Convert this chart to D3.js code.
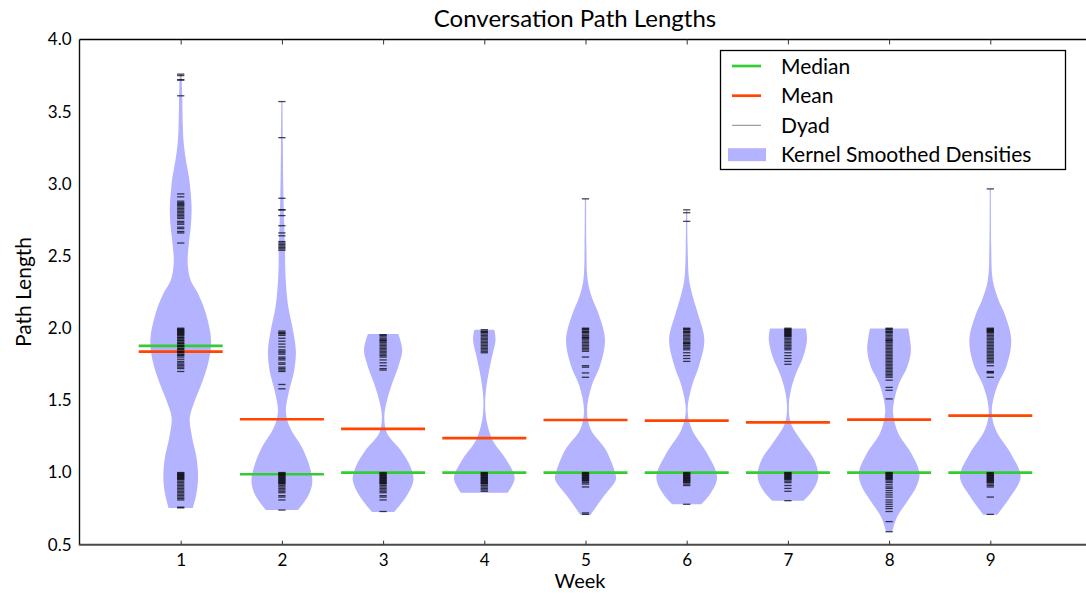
<!DOCTYPE html>
<html><head><meta charset="utf-8">
<script src="https://cdn.jsdelivr.net/npm/d3@7"></script>
<style>
body{margin:0;background:#fff}
svg{display:block}
text{font-family:Lato,"Open Sans",sans-serif;fill:#000}
</style>
</head><body>
<svg id="chart" width="1086" height="594"></svg>
<script>
// ---------- data ----------
const weeks = [1, 2, 3, 4, 5, 6, 7, 8, 9];
const medians = [1.877, 0.988, 1.0, 1.0, 1.0, 1.0, 1.0, 1.0, 1.0];
const means = [1.838, 1.369, 1.302, 1.238, 1.364, 1.360, 1.347, 1.366, 1.394];
const yTicks = [0.5, 1.0, 1.5, 2.0, 2.5, 3.0, 3.5, 4.0];
const xTicks = [1, 2, 3, 4, 5, 6, 7, 8, 9];
const legendLabels = ["Median", "Mean", "Dyad", "Kernel Smoothed Densities"];

// kernel density profiles: [path length, relative density]
const density1 = [[3.76,0.03],[3.63,0.05],[3.40,0.07],[3.28,0.10],[3.165,0.17],[3.05,0.27],[2.935,0.33],[2.82,0.36],[2.70,0.33],[2.59,0.27],[2.45,0.23],[2.33,0.33],[2.24,0.57],[2.10,0.83],[1.92,1.0],[1.78,0.93],[1.64,0.73],[1.50,0.47],[1.38,0.30],[1.25,0.37],[1.09,0.53],[0.95,0.57],[0.835,0.50],[0.755,0.40]];
const density2 = [[3.57,0.02],[3.28,0.03],[2.935,0.05],[2.70,0.08],[2.57,0.10],[2.36,0.12],[2.16,0.20],[1.98,0.37],[1.84,0.46],[1.70,0.40],[1.56,0.23],[1.42,0.13],[1.31,0.27],[1.17,0.67],[1.03,0.93],[0.93,1.0],[0.84,0.87],[0.74,0.53]];
const density3 = [[1.96,0.50],[1.85,0.63],[1.733,0.50],[1.618,0.30],[1.50,0.13],[1.387,0.04],[1.272,0.13],[1.157,0.57],[1.04,0.90],[0.95,1.0],[0.835,0.77],[0.726,0.36]];
const density4 = [[1.99,0.33],[1.92,0.37],[1.78,0.23],[1.64,0.10],[1.50,0.03],[1.364,0.07],[1.226,0.27],[1.087,0.73],[0.96,1.0],[0.86,0.77]];
const density5 = [[2.896,0.02],[2.565,0.03],[2.334,0.07],[2.22,0.20],[2.10,0.43],[1.92,0.64],[1.735,0.47],[1.60,0.20],[1.43,0.05],[1.30,0.17],[1.156,0.67],[0.995,0.98],[0.95,1.0],[0.835,0.60],[0.708,0.17]];
const density6 = [[2.82,0.02],[2.565,0.03],[2.334,0.08],[2.22,0.20],[2.10,0.37],[1.92,0.58],[1.735,0.40],[1.60,0.17],[1.43,0.03],[1.30,0.17],[1.133,0.67],[0.97,1.0],[0.86,0.80],[0.78,0.48]];
const density7 = [[1.997,0.59],[1.92,0.63],[1.80,0.50],[1.687,0.27],[1.572,0.10],[1.456,0.03],[1.34,0.10],[1.202,0.50],[1.087,0.87],[0.971,1.0],[0.88,0.83],[0.805,0.52]];
const density8 = [[1.997,0.63],[1.85,0.72],[1.733,0.60],[1.618,0.33],[1.50,0.17],[1.41,0.13],[1.272,0.30],[1.134,0.73],[0.995,1.0],[0.903,0.90],[0.81,0.63],[0.695,0.27],[0.59,0.10]];
const density9 = [[2.965,0.02],[2.565,0.03],[2.334,0.08],[2.196,0.27],[2.10,0.47],[1.92,0.69],[1.735,0.53],[1.60,0.23],[1.43,0.05],[1.30,0.17],[1.133,0.67],[0.97,1.0],[0.835,0.67],[0.708,0.23]];

// individual dyad path lengths
const dyads1 = [3.76,3.75,3.72,3.72,3.61,2.93,2.91,2.88,2.87,2.86,2.86,2.85,2.84,2.83,2.82,2.81,2.80,2.79,2.78,2.77,2.76,2.74,2.73,2.72,2.70,2.69,2.67,2.66,2.59,2.00,1.995,1.99,1.985,1.98,1.975,1.97,1.965,1.96,1.955,1.95,1.94,1.935,1.93,1.92,1.915,1.91,1.90,1.895,1.89,1.88,1.875,1.87,1.86,1.855,1.85,1.84,1.835,1.83,1.82,1.815,1.81,1.80,1.785,1.77,1.76,1.75,1.74,1.73,1.72,1.70,1.00,0.995,0.99,0.985,0.98,0.975,0.97,0.965,0.96,0.955,0.95,0.94,0.93,0.92,0.91,0.90,0.89,0.88,0.87,0.86,0.85,0.84,0.83,0.82,0.81,0.76,0.755];
const dyads2 = [3.57,3.32,2.90,2.82,2.82,2.78,2.71,2.66,2.64,2.60,2.59,2.58,2.57,2.56,2.55,2.54,1.98,1.97,1.965,1.96,1.95,1.93,1.91,1.89,1.87,1.85,1.84,1.83,1.82,1.80,1.79,1.78,1.76,1.75,1.73,1.72,1.71,1.70,1.61,1.58,1.00,0.995,0.99,0.985,0.98,0.975,0.97,0.965,0.96,0.955,0.95,0.945,0.94,0.935,0.93,0.925,0.92,0.91,0.90,0.89,0.88,0.87,0.86,0.84,0.83,0.81,0.74];
const dyads3 = [1.955,1.95,1.94,1.93,1.92,1.915,1.91,1.90,1.89,1.88,1.87,1.86,1.85,1.84,1.83,1.82,1.81,1.80,1.78,1.76,1.74,1.72,1.71,1.00,0.995,0.99,0.985,0.98,0.975,0.97,0.965,0.96,0.955,0.95,0.945,0.94,0.935,0.93,0.925,0.92,0.91,0.90,0.89,0.88,0.87,0.86,0.84,0.83,0.81,0.73];
const dyads4 = [1.99,1.98,1.975,1.97,1.96,1.95,1.94,1.93,1.92,1.91,1.90,1.89,1.88,1.87,1.86,1.85,1.84,1.83,1.00,0.995,0.99,0.985,0.98,0.975,0.97,0.965,0.96,0.955,0.95,0.945,0.94,0.935,0.93,0.925,0.92,0.91,0.90,0.89,0.88,0.87];
const dyads5 = [2.896,2.00,1.995,1.99,1.98,1.975,1.97,1.96,1.95,1.94,1.935,1.93,1.92,1.91,1.90,1.89,1.88,1.87,1.86,1.85,1.84,1.80,1.74,1.73,1.69,1.66,1.00,0.995,0.99,0.985,0.98,0.975,0.97,0.965,0.96,0.955,0.95,0.945,0.94,0.93,0.92,0.90,0.72,0.71];
const dyads6 = [2.82,2.80,2.74,2.00,1.995,1.99,1.98,1.975,1.97,1.96,1.95,1.94,1.93,1.92,1.91,1.90,1.895,1.89,1.88,1.87,1.86,1.85,1.83,1.81,1.79,1.77,1.00,0.995,0.99,0.985,0.98,0.975,0.97,0.965,0.96,0.955,0.95,0.945,0.94,0.935,0.93,0.92,0.91,0.78];
const dyads7 = [2.00,1.995,1.99,1.985,1.98,1.975,1.97,1.965,1.96,1.955,1.95,1.945,1.94,1.93,1.92,1.91,1.90,1.89,1.88,1.87,1.86,1.85,1.83,1.81,1.79,1.77,1.75,1.00,0.995,0.99,0.985,0.98,0.975,0.97,0.965,0.96,0.955,0.95,0.94,0.93,0.91,0.89,0.87,0.805];
const dyads8 = [2.00,1.995,1.99,1.98,1.975,1.97,1.96,1.95,1.94,1.93,1.92,1.915,1.91,1.90,1.89,1.88,1.87,1.86,1.85,1.84,1.83,1.82,1.81,1.80,1.79,1.78,1.77,1.76,1.75,1.74,1.73,1.72,1.71,1.70,1.69,1.68,1.67,1.66,1.64,1.59,1.57,1.51,1.00,0.995,0.99,0.985,0.98,0.975,0.97,0.965,0.96,0.955,0.95,0.94,0.93,0.915,0.90,0.89,0.875,0.86,0.845,0.83,0.81,0.795,0.78,0.765,0.75,0.73,0.66,0.59];
const dyads9 = [2.965,2.00,1.995,1.99,1.985,1.98,1.975,1.97,1.96,1.95,1.94,1.93,1.92,1.91,1.90,1.89,1.88,1.87,1.86,1.85,1.84,1.83,1.82,1.81,1.80,1.79,1.78,1.77,1.76,1.74,1.70,1.695,1.69,1.66,1.00,0.995,0.99,0.985,0.98,0.975,0.97,0.965,0.96,0.955,0.95,0.945,0.94,0.935,0.93,0.92,0.91,0.90,0.83,0.71];

const densities = [density1, density2, density3, density4, density5, density6, density7, density8, density9];
const dyads = [dyads1, dyads2, dyads3, dyads4, dyads5, dyads6, dyads7, dyads8, dyads9];

// ---------- drawing ----------
const svg = d3.select("#chart");
const x = d3.scaleLinear().domain([0, 10]).range([79.5, 1091.5]);
const y = d3.scaleLinear().domain([0.5, 4.0]).range([544.7, 39.5]);
const violinHalf = 0.30, lineHalf = 0.415, dyadHalf = 0.036;
const violinColor = "#b3b3ff", medianColor = "#33cc33", meanColor = "#ff4500";

// violins
weeks.forEach((w, i) => {
  const area = d3.area()
    .curve(d3.curveCatmullRom.alpha(0.5))
    .y(d => y(d[0]))
    .x0(d => x(w - d[1] * violinHalf))
    .x1(d => x(w + d[1] * violinHalf));
  svg.append("path").attr("d", area(densities[i])).attr("fill", violinColor);
});

// mean & median lines
const lines = svg.append("g");
weeks.forEach((w, i) => {
  lines.append("line").attr("x1", x(w - lineHalf)).attr("x2", x(w + lineHalf))
    .attr("y1", y(medians[i])).attr("y2", y(medians[i]))
    .attr("stroke", medianColor).attr("stroke-width", 2.7);
  lines.append("line").attr("x1", x(w - lineHalf)).attr("x2", x(w + lineHalf))
    .attr("y1", y(means[i])).attr("y2", y(means[i]))
    .attr("stroke", meanColor).attr("stroke-width", 2.7);
});

// dyad marks
weeks.forEach((w, i) => {
  svg.append("g").selectAll("line").data(dyads[i]).join("line")
    .attr("x1", x(w - dyadHalf)).attr("x2", x(w + dyadHalf))
    .attr("y1", d => y(d)).attr("y2", d => y(d))
    .attr("stroke", "#000").attr("stroke-opacity", 0.72).attr("stroke-width", 1.3);
});

// spines
svg.append("line").attr("x1", x(0)).attr("x2", 1086).attr("y1", y(4)).attr("y2", y(4))
  .attr("stroke", "#000").attr("stroke-width", 1.3);
svg.append("line").attr("x1", x(0)).attr("x2", x(0)).attr("y1", y(4)).attr("y2", y(0.5))
  .attr("stroke", "#111").attr("stroke-width", 1.4);
svg.append("line").attr("x1", x(0) - 0.7).attr("x2", 1086).attr("y1", y(0.5)).attr("y2", y(0.5))
  .attr("stroke", "#4a4a4a").attr("stroke-width", 2);

// x ticks (inward, top & bottom)
const xAxisBottom = d3.axisBottom(x).tickValues(xTicks).tickSizeInner(-4).tickSizeOuter(0).tickPadding(9).tickFormat(d3.format("d"));
const gb = svg.append("g").attr("transform", `translate(0,${y(0.5)})`).call(xAxisBottom);
gb.select(".domain").remove();
gb.selectAll(".tick line").attr("stroke", "#333").attr("stroke-width", 1);
gb.selectAll(".tick text").attr("font-family", "Lato").attr("font-size", 17).attr("fill", "#000");

const xAxisTop = d3.axisTop(x).tickValues(xTicks).tickSizeInner(-5).tickSizeOuter(0).tickFormat("");
const gt = svg.append("g").attr("transform", `translate(0,${y(4)})`).call(xAxisTop);
gt.select(".domain").remove();
gt.selectAll(".tick line").attr("stroke", "#333").attr("stroke-width", 1);

// y tick labels
const yAxis = d3.axisLeft(y).tickValues(yTicks).tickSize(0).tickPadding(8).tickFormat(d3.format(".1f"));
const gl = svg.append("g").attr("transform", `translate(${x(0)},0)`).call(yAxis);
gl.select(".domain").remove();
gl.selectAll(".tick text").attr("font-family", "Lato").attr("font-size", 17).attr("fill", "#000");

// titles
svg.append("text").attr("x", 575).attr("y", 27).attr("text-anchor", "middle")
  .attr("font-size", 24).text("Conversation Path Lengths");
svg.append("text").attr("x", 580).attr("y", 588).attr("text-anchor", "middle")
  .attr("font-size", 20).text("Week");
svg.append("text").attr("transform", "translate(31,292) rotate(-90)").attr("text-anchor", "middle")
  .attr("font-size", 21).text("Path Length");

// legend
const lg = svg.append("g");
lg.append("rect").attr("x", 720.5).attr("y", 50.5).attr("width", 345).attr("height", 119)
  .attr("fill", "#fff").attr("stroke", "#000").attr("stroke-width", 1.3);
const rowY = [66, 95.7, 125.3, 154.7];
const handles = [
  {type: "line", color: medianColor, w: 2.7},
  {type: "line", color: meanColor, w: 2.7},
  {type: "line", color: "#888", w: 1},
  {type: "patch", color: violinColor}
];
handles.forEach((h, i) => {
  if (h.type === "line") {
    lg.append("line").attr("x1", 732).attr("x2", 761).attr("y1", rowY[i]).attr("y2", rowY[i])
      .attr("stroke", h.color).attr("stroke-width", h.w);
  } else {
    lg.append("rect").attr("x", 728).attr("y", rowY[i] - 6.5).attr("width", 38).attr("height", 13)
      .attr("fill", h.color);
  }
  lg.append("text").attr("x", 781).attr("y", rowY[i] + 7.5).attr("font-size", 21).text(legendLabels[i]);
});
</script>
</body></html>
